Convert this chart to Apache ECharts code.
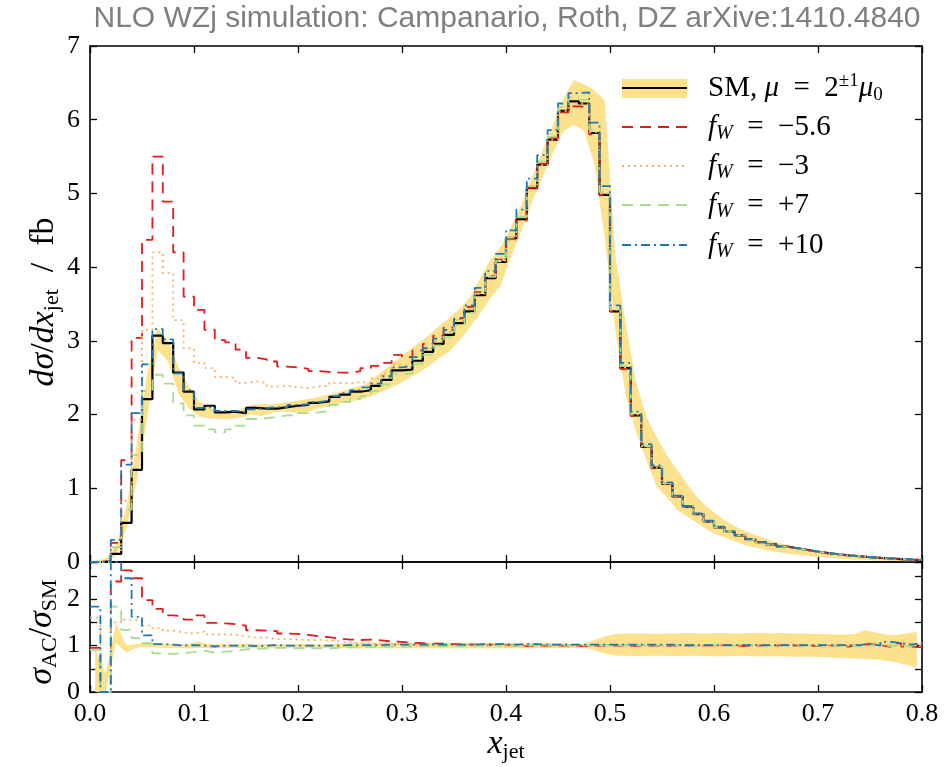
<!DOCTYPE html>
<html><head><meta charset="utf-8">
<script src="https://cdn.jsdelivr.net/npm/echarts@6/dist/echarts.min.js"></script>
<style>html,body{margin:0;padding:0;background:#fff}#c{width:947px;height:767px}</style>
</head><body><div id="c"></div>
<script>
// ---------------- data ----------------
const binEdges = [0.00,0.01,0.02,0.03,0.04,0.05,0.06,0.07,0.08,0.09,0.10,0.11,0.12,0.13,0.14,0.15,0.16,0.17,0.18,0.19,
  0.20,0.21,0.22,0.23,0.24,0.25,0.26,0.27,0.28,0.29,0.30,0.31,0.32,0.33,0.34,0.35,0.36,0.37,0.38,0.39,
  0.40,0.41,0.42,0.43,0.44,0.45,0.46,0.47,0.48,0.49,0.50,0.51,0.52,0.53,0.54,0.55,0.56,0.57,0.58,0.59,
  0.60,0.61,0.62,0.63,0.64,0.65,0.66,0.67,0.68,0.69,0.70,0.71,0.72,0.73,0.74,0.75,0.76,0.77,0.78,0.79,0.80];

const xTicks = [0.0,0.1,0.2,0.3,0.4,0.5,0.6,0.7,0.8];
const yTicksMain = [0,1,2,3,4,5,6,7];
const yTicksRatio = [0,1,2];

const smValues = [0.00,0.01,0.11,0.53,1.25,2.21,3.07,2.97,2.57,2.31,
  2.07,2.12,2.03,2.04,2.02,2.09,2.08,2.08,2.10,2.12,
  2.13,2.16,2.18,2.24,2.27,2.31,2.33,2.39,2.47,2.60,
  2.61,2.73,2.85,2.96,3.08,3.24,3.40,3.62,3.85,4.07,
  4.39,4.65,5.07,5.39,5.73,6.12,6.25,6.22,5.82,4.98,
  3.40,2.63,1.99,1.56,1.28,1.06,0.89,0.75,0.65,0.55,
  0.47,0.41,0.36,0.31,0.27,0.24,0.21,0.186,0.163,0.14,
  0.12,0.105,0.09,0.078,0.067,0.057,0.048,0.04,0.033,0.027];

const fWm56Values = [0.00,0.00,0.26,1.38,3.04,4.37,5.50,4.89,4.20,3.60,
  3.42,3.15,3.01,2.98,2.88,2.77,2.75,2.72,2.65,2.64,
  2.62,2.59,2.58,2.57,2.57,2.59,2.63,2.66,2.70,2.81,
  2.78,2.87,2.96,3.07,3.18,3.31,3.46,3.66,3.88,4.10,
  4.40,4.63,5.08,5.40,5.75,6.10,6.18,6.17,5.80,4.98,
  3.40,2.62,1.98,1.56,1.27,1.06,0.89,0.75,0.65,0.55,
  0.475,0.41,0.357,0.31,0.27,0.24,0.212,0.186,0.163,0.139,
  0.12,0.105,0.088,0.08,0.069,0.058,0.047,0.042,0.032,0.026];

const fWm3Values = [0.00,0.00,0.16,0.83,1.93,3.15,4.20,3.92,3.28,2.90,
  2.70,2.63,2.51,2.50,2.43,2.45,2.43,2.38,2.39,2.37,
  2.36,2.38,2.39,2.43,2.42,2.44,2.43,2.49,2.56,2.68,
  2.67,2.78,2.90,3.00,3.12,3.28,3.43,3.64,3.88,4.09,
  4.36,4.62,5.05,5.38,5.73,6.12,6.22,6.21,5.83,5.00,
  3.42,2.64,2.00,1.57,1.28,1.06,0.89,0.75,0.65,0.55,
  0.47,0.41,0.36,0.31,0.27,0.24,0.21,0.186,0.163,0.14,
  0.12,0.105,0.09,0.078,0.067,0.058,0.049,0.04,0.033,0.027];

const fWp7Values = [0.00,0.00,0.20,0.71,1.45,2.32,2.54,2.42,2.15,1.99,
  1.85,1.80,1.76,1.80,1.85,1.94,1.95,1.97,1.99,1.99,
  2.02,2.03,2.05,2.13,2.17,2.21,2.25,2.32,2.41,2.55,
  2.56,2.69,2.81,2.94,3.05,3.21,3.38,3.64,3.87,4.08,
  4.40,4.68,5.10,5.43,5.77,6.17,6.30,6.27,5.86,5.02,
  3.44,2.66,2.01,1.57,1.29,1.07,0.90,0.75,0.65,0.55,
  0.47,0.41,0.36,0.31,0.27,0.24,0.21,0.186,0.163,0.14,
  0.12,0.105,0.09,0.078,0.067,0.057,0.048,0.04,0.033,0.027];

const fWp10Values = [0.00,0.00,0.30,1.32,2.02,2.68,3.16,3.02,2.56,2.33,
  2.09,2.10,2.05,2.05,2.03,2.07,2.09,2.10,2.10,2.13,
  2.14,2.17,2.19,2.25,2.29,2.33,2.37,2.42,2.52,2.64,
  2.66,2.78,2.90,3.03,3.15,3.30,3.48,3.72,3.95,4.18,
  4.50,4.78,5.20,5.52,5.86,6.22,6.36,6.37,5.96,5.10,
  3.48,2.70,2.04,1.60,1.31,1.08,0.90,0.76,0.66,0.56,
  0.48,0.415,0.365,0.315,0.273,0.243,0.212,0.188,0.165,0.142,
  0.121,0.106,0.091,0.079,0.068,0.058,0.049,0.041,0.034,0.028];

// scale-variation band of the SM (at bin centres)
const smBandLow = [0.00,0.00,0.08,0.45,1.10,1.95,2.88,2.72,2.29,2.09,
  1.97,1.95,1.94,1.94,1.96,2.00,1.98,2.02,2.04,2.03,
  2.00,2.07,2.10,2.13,2.16,2.19,2.22,2.28,2.34,2.40,
  2.48,2.56,2.65,2.76,2.85,3.00,3.18,3.37,3.58,3.75,
  4.15,4.50,4.88,5.22,5.54,5.84,5.93,5.85,5.40,4.40,
  3.15,2.27,1.77,1.38,1.02,0.87,0.70,0.61,0.52,0.42,
  0.36,0.31,0.25,0.21,0.18,0.15,0.125,0.106,0.09,0.073,
  0.064,0.055,0.045,0.035,0.027,0.022,0.018,0.014,0.011,0.009];
const smBandHigh = [0.02,0.04,0.22,0.75,1.60,2.55,3.17,3.00,2.65,2.38,
  2.18,2.09,2.05,2.06,2.07,2.13,2.14,2.14,2.16,2.18,
  2.20,2.22,2.26,2.29,2.33,2.37,2.41,2.52,2.63,2.74,
  2.85,2.96,3.07,3.19,3.31,3.43,3.58,3.85,4.10,4.28,
  4.55,4.85,5.22,5.58,5.92,6.28,6.54,6.48,6.40,6.26,
  4.17,3.24,2.45,1.97,1.69,1.44,1.24,1.04,0.86,0.73,
  0.62,0.525,0.45,0.39,0.34,0.29,0.25,0.22,0.19,0.165,
  0.145,0.124,0.103,0.083,0.068,0.058,0.048,0.04,0.033,0.027];

// ratio panel sigma_AC / sigma_SM
const ratioM56 = [0.95,0.00,2.38,2.62,2.45,1.98,1.79,1.65,1.63,1.56,
  1.65,1.49,1.48,1.46,1.43,1.33,1.32,1.31,1.26,1.25,
  1.23,1.20,1.18,1.15,1.13,1.12,1.13,1.11,1.09,1.08,
  1.06,1.05,1.04,1.04,1.03,1.02,1.02,1.01,1.01,1.01,
  1.00,0.99,1.00,1.00,1.00,1.00,0.99,0.99,1.00,1.00,
  1.00,0.99,1.00,1.00,0.99,1.00,1.00,1.00,1.00,1.00,
  1.01,1.00,0.99,1.00,1.00,1.00,1.01,1.00,1.00,0.99,
  1.00,1.00,0.98,1.02,1.03,1.01,0.97,1.05,0.98,0.96];
const ratioM3 = [1.60,0.00,1.50,1.56,1.54,1.43,1.37,1.32,1.28,1.26,
  1.30,1.24,1.24,1.23,1.20,1.17,1.17,1.14,1.14,1.13,
  1.12,1.12,1.11,1.09,1.07,1.06,1.04,1.04,1.04,1.03,
  1.02,1.02,1.02,1.01,1.01,1.01,1.01,1.00,1.01,1.00,
  0.99,0.99,1.00,1.00,1.00,1.00,0.99,1.00,1.00,1.00,
  1.01,1.00,1.00,1.01,1.00,1.00,1.00,1.00,1.00,1.00,
  1.00,1.00,1.00,1.00,1.00,1.00,1.00,1.00,1.00,1.00,
  1.00,1.00,1.00,1.00,1.00,1.01,1.02,1.00,1.00,1.00];
const ratioP7 = [0.90,0.00,1.84,1.34,1.16,1.05,0.83,0.82,0.84,0.86,
  0.89,0.85,0.87,0.88,0.92,0.93,0.94,0.95,0.95,0.94,
  0.95,0.94,0.94,0.95,0.96,0.96,0.97,0.97,0.98,0.98,
  0.98,0.99,0.99,0.99,0.99,0.99,1.00,1.00,1.00,1.00,
  1.00,1.01,1.01,1.01,1.01,1.01,1.01,1.01,1.01,1.01,
  1.01,1.01,1.01,1.00,1.01,1.01,1.01,1.00,1.00,1.00,
  1.00,1.00,1.01,1.00,1.00,1.00,1.00,1.00,1.00,1.00,
  1.00,1.00,1.01,0.98,1.00,1.02,0.99,1.01,0.97,1.04];
const ratioP10 = [1.84,0.00,2.80,2.45,1.62,1.22,1.03,1.02,1.00,1.01,
  1.00,0.98,1.00,1.00,1.00,0.99,1.00,1.01,1.00,1.00,
  1.00,1.00,1.00,1.00,1.01,1.01,1.01,1.01,1.02,1.02,
  1.02,1.02,1.02,1.02,1.02,1.02,1.02,1.03,1.03,1.03,
  1.02,1.03,1.03,1.02,1.02,1.02,1.02,1.02,1.02,1.02,
  1.02,1.02,1.02,1.02,1.02,1.02,1.01,1.01,1.01,1.01,
  1.01,1.01,1.01,1.01,1.01,1.01,1.01,1.01,1.01,1.01,
  1.01,1.01,1.01,1.01,1.04,1.00,1.08,1.05,1.02,1.06];
const ratioBandLow = [0.00,0.00,1.05,0.85,0.96,0.98,0.96,0.95,0.94,0.94,
  0.95,0.94,0.95,0.95,0.95,0.95,0.94,0.95,0.95,0.95,
  0.94,0.95,0.95,0.95,0.95,0.94,0.94,0.94,0.94,0.94,
  0.94,0.94,0.94,0.94,0.94,0.94,0.94,0.94,0.94,0.94,
  0.94,0.94,0.94,0.95,0.95,0.95,0.95,0.96,0.90,0.83,
  0.78,0.78,0.77,0.78,0.78,0.78,0.77,0.78,0.78,0.77,
  0.77,0.77,0.78,0.77,0.77,0.77,0.77,0.76,0.76,0.76,
  0.75,0.74,0.73,0.72,0.71,0.70,0.68,0.64,0.58,0.52];
const ratioBandHigh = [0.95,0.40,1.48,1.00,1.04,1.06,1.05,1.04,1.03,1.04,
  1.08,1.03,1.03,1.03,1.03,1.04,1.03,1.04,1.03,1.03,
  1.04,1.03,1.03,1.04,1.05,1.06,1.06,1.06,1.06,1.06,
  1.06,1.06,1.06,1.06,1.06,1.06,1.06,1.06,1.06,1.06,
  1.06,1.06,1.05,1.05,1.05,1.05,1.04,1.04,1.12,1.20,
  1.25,1.26,1.26,1.26,1.25,1.26,1.26,1.27,1.26,1.26,
  1.27,1.26,1.26,1.27,1.27,1.26,1.27,1.26,1.26,1.25,
  1.25,1.24,1.24,1.25,1.33,1.28,1.24,1.23,1.26,1.29];

const seriesNames = ['SM', 'fW = -5.6', 'fW = -3', 'fW = +7', 'fW = +10'];

// ---------------- styles ----------------
const BAND = '#fce28c';
const COLORS = ['#000000', '#e31a1c', '#fdae6b', '#a9dc8e', '#1f78b4'];
const DASHES = [null, [11, 7], [2, 4], [11, 7], [9, 4, 2, 4]];
const WIDTHS = [2.2, 1.8, 1.8, 1.8, 1.8];
const SERIF = 'Liberation Serif';

const chart = echarts.init(document.getElementById('c'), null, {renderer: 'canvas'});

function stepData(vals) {
  const d = vals.map((v, i) => [binEdges[i], v]);
  d.push([binEdges[vals.length], vals[vals.length - 1]]);
  return d;
}
function bandSeries(lo, hi, xi, yi) {
  return {
    type: 'custom', xAxisIndex: xi, yAxisIndex: yi, data: [[0.4, 1]], clip: true, silent: true, z: 1,
    animation: false,
    renderItem: function (params, api) {
      const pts = [];
      for (let i = 0; i < hi.length; i++) pts.push(api.coord([(binEdges[i] + binEdges[i + 1]) / 2, hi[i]]));
      for (let i = lo.length - 1; i >= 0; i--) pts.push(api.coord([(binEdges[i] + binEdges[i + 1]) / 2, lo[i]]));
      return {type: 'polygon', shape: {points: pts}, style: {fill: BAND, stroke: null}};
    }
  };
}
function lineSeries(k, vals, xi, yi) {
  return {
    type: 'line', name: seriesNames[k], step: 'end', data: stepData(vals), xAxisIndex: xi, yAxisIndex: yi,
    symbol: 'none', showSymbol: false, animation: false, clip: true, z: 3 + k,
    lineStyle: {color: COLORS[k], width: WIDTHS[k], type: DASHES[k] || 'solid', cap: 'butt'}
  };
}
const axLine = {show: true, onZero: false, lineStyle: {color: '#000', width: 1.6}};
const tickStyle = {show: true, inside: true, length: 7, lineStyle: {color: '#000', width: 1.3}};
const lblStyle = {color: '#000', fontFamily: SERIF, fontSize: 26};

function xAx(grid, pos, show) {
  return {type: 'value', gridIndex: grid, position: pos, min: xTicks[0], max: xTicks[xTicks.length - 1], interval: 0.1,
    axisLine: axLine, axisTick: tickStyle, splitLine: {show: false},
    axisLabel: Object.assign({show: show, margin: 9, showMinLabel: true, showMaxLabel: true,
      formatter: v => xTicks.some(t => Math.abs(t - v) < 1e-6) ? v.toFixed(1) : ''}, lblStyle)};
}
function yAx(grid, pos, show, max, interval, ticks) {
  return {type: 'value', gridIndex: grid, position: pos, min: 0, max: max, interval: interval,
    axisLine: axLine, axisTick: tickStyle, splitLine: {show: false},
    axisLabel: Object.assign({show: show, margin: 10, showMinLabel: true, showMaxLabel: true,
      formatter: v => { const t = ticks.find(t => Math.abs(t - v) < 1e-6); return t === undefined ? '' : String(t); }}, lblStyle)};
}

const rich = {
  r: {fontFamily: SERIF, fontSize: 29, color: '#000'},
  i: {fontFamily: SERIF, fontStyle: 'italic', fontSize: 29, color: '#000'},
  sub: {fontFamily: SERIF, fontSize: 19, color: '#000', padding: [15, 0, 0, 0]},
  subi: {fontFamily: SERIF, fontStyle: 'italic', fontSize: 20, color: '#000', padding: [14, 0, 0, 0]},
  sup: {fontFamily: SERIF, fontSize: 19, color: '#000', padding: [0, 0, 14, 0]}
};
const richBig = {
  r: {fontFamily: SERIF, fontSize: 34, color: '#000'},
  i: {fontFamily: SERIF, fontStyle: 'italic', fontSize: 34, color: '#000'},
  sub: {fontFamily: SERIF, fontSize: 22, color: '#000', padding: [17, 0, 0, 0]}
};

const legendRows = [88, 127, 166, 205, 245];
const legendTexts = [
  '{r|SM, }{i|μ}{r|  =  2}{sup|±1}{i|μ}{sub|0}',
  '{i|f}{subi|W}{r|  =  −5.6}',
  '{i|f}{subi|W}{r|  =  −3}',
  '{i|f}{subi|W}{r|  =  +7}',
  '{i|f}{subi|W}{r|  =  +10}'
];
const graphics = [
  {type: 'text', x: 507, y: 19, style: {text: 'NLO WZj simulation: Campanario, Roth, DZ arXive:1410.4840',
    font: '30px "Liberation Sans Narrow", "Liberation Sans", sans-serif', fill: '#7f7f7f', align: 'center', verticalAlign: 'middle'}},
  {type: 'text', x: 44, y: 302, rotation: Math.PI / 2, style: {text: '{i|dσ}{r|/}{i|dx}{sub|jet}{r|  /  fb}', rich: richBig, align: 'center', verticalAlign: 'middle'}},
  {type: 'text', x: 42, y: 632, rotation: Math.PI / 2, style: {text: '{i|σ}{sub|AC}{r|/}{i|σ}{sub|SM}', rich: richBig, align: 'center', verticalAlign: 'middle'}},
  {type: 'text', x: 506, y: 744, style: {text: '{i|x}{sub|jet}', rich: richBig, align: 'center', verticalAlign: 'middle'}},
  {type: 'rect', shape: {x: 622, y: 79, width: 65, height: 19}, style: {fill: BAND}}
];
legendRows.forEach((yy, k) => {
  graphics.push({type: 'line', shape: {x1: 622, y1: yy, x2: 687, y2: yy},
    style: {stroke: COLORS[k], lineWidth: WIDTHS[k], lineDash: DASHES[k] || null}});
  graphics.push({type: 'text', x: 708, y: yy, style: {text: legendTexts[k], rich: rich, align: 'left', verticalAlign: 'middle'}});
});

const mainVals = [smValues, fWm56Values, fWm3Values, fWp7Values, fWp10Values];
const ratioVals = [ratioM56, ratioM3, ratioP7, ratioP10];

const series = [bandSeries(smBandLow, smBandHigh, 0, 0), bandSeries(ratioBandLow, ratioBandHigh, 2, 2)];
mainVals.forEach((v, k) => series.push(lineSeries(k, v, 0, 0)));
ratioVals.forEach((v, k) => series.push(lineSeries(k + 1, v, 2, 2)));

chart.setOption({
  animation: false,
  backgroundColor: '#ffffff',
  grid: [
    {left: 90, right: 25, top: 46, height: 516},
    {left: 90, right: 25, top: 562, height: 130}
  ],
  xAxis: [xAx(0, 'bottom', false), xAx(0, 'top', false), xAx(1, 'bottom', true), xAx(1, 'top', false)],
  yAxis: [yAx(0, 'left', true, 7, 1, yTicksMain), yAx(0, 'right', false, 7, 1, yTicksMain),
          yAx(1, 'left', true, 2.8, 0.5, yTicksRatio), yAx(1, 'right', false, 2.8, 0.5, yTicksRatio)],
  series: series,
  graphic: graphics
});
</script></body></html>
